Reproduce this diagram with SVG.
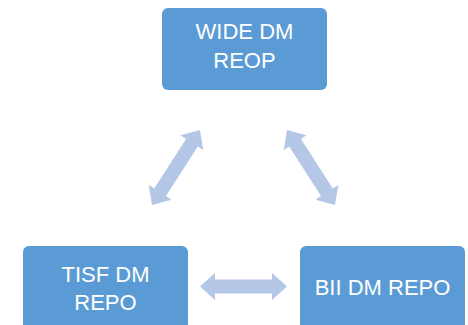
<svg xmlns="http://www.w3.org/2000/svg" width="468" height="325" viewBox="0 0 468 325">
  <style>
    .box { fill: #5b9bd5; }
    .label { fill: #ffffff; font-family: "Liberation Sans", Arial, sans-serif; font-size: 22px; text-anchor: middle; }
    .link { fill: #b4c7e7; }
  </style>
  <defs>
    <!-- double-headed block arrow, 87 long, centred on the origin -->
    <path id="dbl" d="M -43.5,0 L -28.5,-13.5 L -28.5,-7 L 28.5,-7 L 28.5,-13.5 L 43.5,0 L 28.5,13.5 L 28.5,7 L -28.5,7 L -28.5,13.5 Z"/>
    <!-- same arrow, 89 long, for the slanted links -->
    <path id="dbl89" d="M -44.5,0 L -29.5,-13.5 L -29.5,-7 L 29.5,-7 L 29.5,-13.5 L 44.5,0 L 29.5,13.5 L 29.5,7 L -29.5,7 L -29.5,13.5 Z"/>
  </defs>
  <rect width="468" height="325" fill="#ffffff"/>

  <g id="connectors">
    <use href="#dbl89" class="link" transform="translate(176,167.5) rotate(-57.4)"/>
    <use href="#dbl89" class="link" transform="translate(311,167.5) rotate(57.4)"/>
    <use href="#dbl" class="link" transform="translate(243.5,286.5)"/>
  </g>

  <g id="wide-dm-reop">
    <rect class="box" x="162" y="8" width="165" height="82" rx="6"/>
    <text class="label" x="244.5" y="39">WIDE DM</text>
    <text class="label" x="244.5" y="68">REOP</text>
  </g>

  <g id="tisf-dm-repo">
    <rect class="box" x="23" y="246" width="165" height="90" rx="6"/>
    <text class="label" x="105.5" y="282">TISF DM</text>
    <text class="label" x="105.5" y="310">REPO</text>
  </g>

  <g id="bii-dm-repo">
    <rect class="box" x="300" y="246" width="165" height="90" rx="6"/>
    <text class="label" x="382.5" y="295">BII DM REPO</text>
  </g>
</svg>
